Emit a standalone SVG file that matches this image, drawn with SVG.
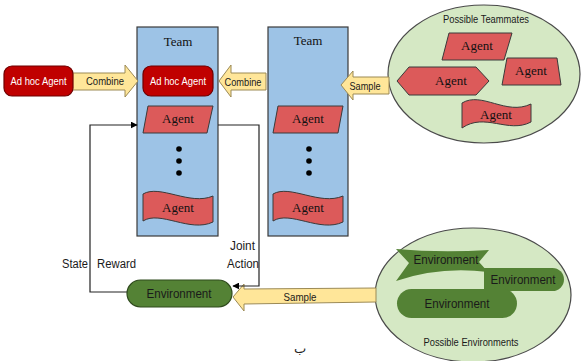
<svg xmlns="http://www.w3.org/2000/svg" width="582" height="361" viewBox="0 0 582 361">
  <defs>
    <marker id="arr" viewBox="0 0 10 10" refX="9" refY="5" markerWidth="7" markerHeight="7" markerUnits="userSpaceOnUse" orient="auto">
      <path d="M0,0 L10,5 L0,10 Z" fill="#000"/>
    </marker>
    <style>
      .team { fill: #9DC3E6; stroke: #3a3a3a; stroke-width: 1.2; }
      .agent { fill: #DC5A5A; stroke: #3a3a3a; stroke-width: 1; }
      .adhoc { fill: #C00000; stroke: #6e0000; stroke-width: 1.2; }
      .env { fill: #548235; stroke: #2f4a1d; stroke-width: 1.2; }
      .envs { fill: #548235; stroke: none; }
      .pool { fill: #D5E8C4; stroke: #4a4a4a; stroke-width: 1.2; }
      .blk { fill: #FFE699; stroke: #9c8a55; stroke-width: 1; }
      .wire { fill: none; stroke: #222; stroke-width: 1.2; }
      .serif { font-family: "Liberation Serif", "Times New Roman", serif; fill: #111; text-anchor: middle; }
      .sans { font-family: "Liberation Sans", Arial, sans-serif; fill: #1a1a1a; text-anchor: middle; }
      .white { fill: #fff; }
      .dot { fill: #000; }
    </style>
  </defs>

  <!-- candidate pools -->
  <g id="possible-teammates">
    <ellipse class="pool" cx="484" cy="74" rx="96" ry="69"/>
    <text class="sans" x="486" y="23" font-size="10.5" textLength="86" lengthAdjust="spacingAndGlyphs">Possible Teammates</text>
    <polygon class="agent" points="449,33 512,33 504,60 442,60"/>
    <text class="serif" x="477" y="50" font-size="13">Agent</text>
    <polygon class="agent" points="507,58 557,58 561,85 502,85"/>
    <text class="serif" x="531" y="75" font-size="13">Agent</text>
    <polygon class="agent" points="397,81 409,67 476,67 489,81 476,95 409,95"/>
    <text class="serif" x="451" y="85" font-size="13">Agent</text>
    <path class="agent" d="M462,103 C482,91 506,116 531,104 L531,122 C508,134 485,112 462,128 Z"/>
    <text class="serif" x="496" y="119" font-size="13">Agent</text>
  </g>

  <g id="possible-environments">
    <ellipse class="pool" cx="473" cy="295" rx="98" ry="67"/>
    <path class="envs" d="M396,249 Q440,253 489,250 L479,262 L488,272 Q440,266 396,281 L409,263 Z"/>
    <text class="sans" x="446" y="264" font-size="12" textLength="65" lengthAdjust="spacingAndGlyphs">Environment</text>
    <path class="envs" d="M484,268 H552.5 A11.5,11.5 0 0 1 552.5,291 H484 Z" stroke="#c8dcb8" stroke-width="0.8"/>
    <text class="sans" x="523" y="283.5" font-size="12" textLength="65" lengthAdjust="spacingAndGlyphs">Environment</text>
    <rect class="envs" x="397" y="289" width="120" height="29" rx="14.5"/>
    <text class="sans" x="457" y="307.5" font-size="12" textLength="65" lengthAdjust="spacingAndGlyphs">Environment</text>
    <text class="sans" x="471" y="346" font-size="10.5" textLength="95" lengthAdjust="spacingAndGlyphs">Possible Environments</text>
  </g>

  <!-- teams -->
  <g id="team-1">
    <rect class="team" x="137" y="27" width="81" height="209"/>
    <text class="serif" x="178" y="46" font-size="13">Team</text>
  </g>
  <g id="team-2">
    <rect class="team" x="268" y="27" width="80" height="209"/>
    <text class="serif" x="308" y="45" font-size="13">Team</text>
  </g>

  <g id="adhoc-agent-in-team">
    <rect class="adhoc" x="143" y="66" width="70" height="30" rx="8"/>
    <text class="sans white" x="178" y="85" font-size="11" textLength="56" lengthAdjust="spacingAndGlyphs">Ad hoc Agent</text>
  </g>
  <g id="team1-agent-a">
    <polygon class="agent" points="148,106 213,106 207,133 143,133"/>
    <text class="serif" x="178" y="123" font-size="13">Agent</text>
  </g>
  <g id="team1-more">
    <circle class="dot" cx="179" cy="149" r="2.8"/>
    <circle class="dot" cx="179" cy="161" r="2.8"/>
    <circle class="dot" cx="179" cy="173" r="2.8"/>
  </g>
  <g id="team1-agent-b">
    <path class="agent" d="M143,194 C160,184 190,206 213,196 L213,222 C190,233 160,210 143,221 Z"/>
    <text class="serif" x="178" y="212" font-size="13">Agent</text>
  </g>

  <g id="team2-agent-a">
    <polygon class="agent" points="278,106 343,106 338,133 273,133"/>
    <text class="serif" x="308" y="123" font-size="13">Agent</text>
  </g>
  <g id="team2-more">
    <circle class="dot" cx="309" cy="149" r="2.8"/>
    <circle class="dot" cx="309" cy="161" r="2.8"/>
    <circle class="dot" cx="309" cy="173" r="2.8"/>
  </g>
  <g id="team2-agent-b">
    <path class="agent" d="M273,194 C290,184 320,206 343,196 L343,222 C320,233 290,210 273,221 Z"/>
    <text class="serif" x="308" y="212" font-size="13">Agent</text>
  </g>

  <!-- connectors -->
  <g id="connectors">
    <polygon class="blk" points="70,73 125,73 125,65 138,81 125,97 125,90 70,90"/>
    <text class="sans" x="105" y="85" font-size="11" textLength="38" lengthAdjust="spacingAndGlyphs">Combine</text>

    <polygon class="blk" points="219,81 231,65 231,73 266,73 266,90 231,90 231,97"/>
    <text class="sans" x="243" y="86" font-size="11" textLength="37" lengthAdjust="spacingAndGlyphs">Combine</text>

    <polygon class="blk" points="341,85 353,71 353,77 389,77 389,94 353,94 353,100"/>
    <text class="sans" x="365" y="89.5" font-size="11" textLength="31" lengthAdjust="spacingAndGlyphs">Sample</text>

    <polygon class="blk" points="233,297 244,284 244,289 376,288 376,302 244,304 244,311"/>
    <text class="sans" x="300" y="300.5" font-size="11" textLength="33" lengthAdjust="spacingAndGlyphs">Sample</text>

    <polyline class="wire" points="128,292 90,292 90,125 137,125" marker-end="url(#arr)"/>
    <polyline class="wire" points="218,125 259,125 259,286 233,286" marker-end="url(#arr)"/>

    <text class="sans" x="75" y="268" font-size="12" textLength="26" lengthAdjust="spacingAndGlyphs">State</text>
    <text class="sans" x="116.5" y="268" font-size="12" textLength="39" lengthAdjust="spacingAndGlyphs">Reward</text>
    <text class="sans" x="242.5" y="250" font-size="12" textLength="25" lengthAdjust="spacingAndGlyphs">Joint</text>
    <text class="sans" x="243" y="268" font-size="12" textLength="32" lengthAdjust="spacingAndGlyphs">Action</text>
  </g>

  <g id="adhoc-agent">
    <rect class="adhoc" x="4" y="66" width="69" height="30" rx="8"/>
    <text class="sans white" x="38.5" y="85" font-size="11" textLength="56" lengthAdjust="spacingAndGlyphs">Ad hoc Agent</text>
  </g>

  <g id="environment">
    <rect class="env" x="127" y="280" width="105" height="27" rx="13.5"/>
    <text class="sans" x="179" y="298" font-size="12" textLength="65" lengthAdjust="spacingAndGlyphs">Environment</text>
  </g>

  <text x="300" y="353" font-family="DejaVu Sans, sans-serif" font-size="13" fill="#222" text-anchor="middle">ب</text>
</svg>
